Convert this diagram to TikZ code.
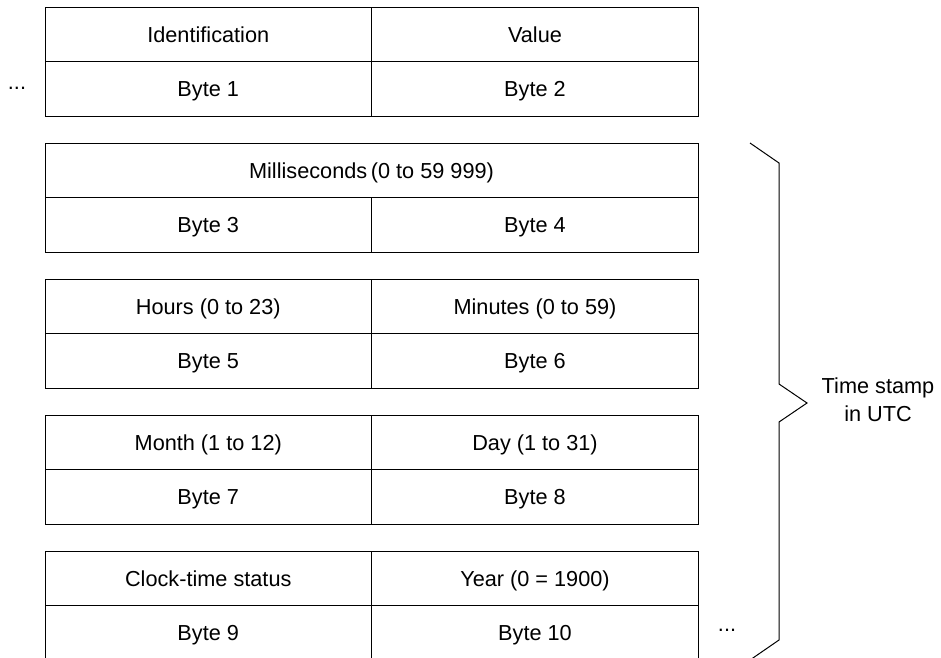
\documentclass[tikz,border=0pt]{standalone}
\usepackage{fontspec}
\setmainfont{Liberation Sans}
\usetikzlibrary{shapes}

\tikzset{
  cell/.style={shape=rectangle,draw=black,align=center,line width=1pt,
    minimum width=326.5pt,minimum height=54.5pt,inner sep=0pt,outer sep=0pt,
    text height=15.5pt,text depth=0pt},
  widecell/.style={cell,minimum width=653pt},
  txt/.style={align=center,inner sep=0pt}
}

\begin{document}
\begin{tikzpicture}[x=1pt,y=-1pt,font=\fontsize{21.7}{28}\selectfont]
\useasboundingbox (0,0) rectangle (941,657);

\node[cell] (id) at (208.25,34.25) {Identification};
\node[cell] (val) at (535,34.25) {Value};
\node[cell] (b1) at (208.25,88.75) {Byte 1};
\node[cell] (b2) at (535,88.75) {Byte 2};

\node[widecell] (ms) at (371.5,170.25) {Milliseconds\,(0 to 59 999)};
\node[cell] (b3) at (208.25,224.75) {Byte 3};
\node[cell] (b4) at (535,224.75) {Byte 4};

\node[cell] (hrs) at (208.25,306.25) {Hours (0 to 23)};
\node[cell] (min) at (535,306.25) {Minutes (0 to 59)};
\node[cell] (b5) at (208.25,360.75) {Byte 5};
\node[cell] (b6) at (535,360.75) {Byte 6};

\node[cell] (mon) at (208.25,442.25) {Month (1 to 12)};
\node[cell] (day) at (535,442.25) {Day (1 to 31)};
\node[cell] (b7) at (208.25,496.75) {Byte 7};
\node[cell] (b8) at (535,496.75) {Byte 8};

\node[cell] (clk) at (208.25,578.25) {Clock-time status};
\node[cell] (yr) at (535,578.25) {Year (0 = 1900)};
\node[cell] (b9) at (208.25,632.75) {Byte 9};
\node[cell] (b10) at (535,632.75) {Byte 10};

\node[txt] (dotsl) at (17,88) {...};
\node[txt] (dotsr) at (727,630) {...};

% brace
\coordinate (bt) at (750,143);
\coordinate (bt2) at (779,163);
\coordinate (bm1) at (779,384);
\coordinate (tip) at (807,403);
\coordinate (bm2) at (779,422);
\coordinate (bb2) at (779,640);
\coordinate (bb) at (750,660);
\draw[line width=1pt] (bt) -- (bt2) -- (bm1) -- (tip) -- (bm2) -- (bb2) -- (bb);

\node[txt] (utc) at (878,400) {Time stamp\\in UTC};
\end{tikzpicture}
\end{document}
